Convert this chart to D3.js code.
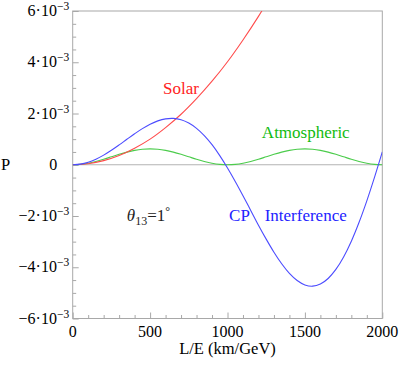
<!DOCTYPE html>
<html>
<head>
<meta charset="utf-8">
<script src="https://cdn.jsdelivr.net/npm/d3@7"></script>
<style>
  body { margin: 0; background: #fff; }
</style>
</head>
<body>
<svg></svg>
<script>
// values are in units of 1e-3
const lE = [0, 50, 100, 150, 200, 250, 300, 350, 400, 450, 500, 550, 600, 650, 700, 750, 800, 850, 900, 950,
  1000, 1050, 1100, 1150, 1200, 1250, 1300, 1350, 1400, 1450, 1500, 1550, 1600, 1650, 1700, 1750, 1800, 1850, 1900, 1950, 2000];

const atmospheric = [0, 0.015, 0.059, 0.128, 0.214, 0.31, 0.406, 0.492, 0.561, 0.605, 0.62, 0.605, 0.561, 0.492, 0.406, 0.31, 0.214, 0.128, 0.059, 0.015,
  0, 0.015, 0.059, 0.128, 0.214, 0.31, 0.406, 0.492, 0.561, 0.605, 0.62, 0.605, 0.561, 0.492, 0.406, 0.31, 0.214, 0.128, 0.059, 0.015, 0];

const interference = [0, 0.025, 0.099, 0.218, 0.376, 0.565, 0.774, 0.993, 1.209, 1.41, 1.581, 1.712, 1.79, 1.808, 1.756, 1.626, 1.42, 1.137, 0.784, 0.358,
  -0.125, -0.65, -1.206, -1.781, -2.358, -2.903, -3.413, -3.864, -4.239, -4.518, -4.689, -4.738, -4.656, -4.439, -4.085, -3.597, -2.982, -2.244, -1.407, -0.484, 0.5];

const solarL = [0, 100, 200, 300, 400, 500, 600, 700, 800, 900, 1000, 1100, 1200, 1300];
const solar = [0, 0.04, 0.16, 0.36, 0.645, 1.0, 1.45, 1.97, 2.58, 3.26, 4.02, 4.87, 5.79, 6.8];

const xTicks = [0, 500, 1000, 1500, 2000];
const yTicks = [-6, -4, -2, 0, 2, 4, 6];

const W = 399, H = 367;
const margin = { top: 11, right: 16.7, bottom: 48.5, left: 72.7 },
    width = W - margin.left - margin.right,
    height = H - margin.top - margin.bottom;

const serif = "'Liberation Serif', Tinos, 'Times New Roman', 'Noto Serif', 'DejaVu Serif', FreeSerif, 'Nimbus Roman', serif";

const x = d3.scaleLinear().domain([0, 2000]).range([0, width]);
const y = d3.scaleLinear().domain([-6, 6]).range([height, 0]);

const svg = d3.select("svg")
    .attr("width", W)
    .attr("height", H)
    .style("font-family", serif)
    .append("g")
    .attr("transform", "translate(" + margin.left + "," + margin.top + ")");

svg.append("clipPath").attr("id", "plot")
    .append("rect").attr("width", width).attr("height", height);

// zero axis
svg.append("line")
    .attr("x1", 0).attr("x2", width)
    .attr("y1", y(0)).attr("y2", y(0))
    .attr("stroke", "#b3b3b3");

// minor + major ticks, drawn inward
const frameColor = "#a8a8a8";
svg.append("g")
    .attr("transform", "translate(0," + height + ")")
    .call(d3.axisTop(x).tickValues(x.ticks(20).filter(d => !xTicks.includes(d))).tickSize(3.5).tickFormat(""))
    .call(g => g.select(".domain").remove());
svg.append("g")
    .attr("transform", "translate(0," + height + ")")
    .call(d3.axisTop(x).tickValues(xTicks).tickSize(6).tickFormat(""))
    .call(g => g.select(".domain").remove());
svg.append("g")
    .call(d3.axisRight(y).tickValues(y.ticks(24).filter(d => !yTicks.includes(d))).tickSize(3.5).tickFormat(""))
    .call(g => g.select(".domain").remove());
svg.append("g")
    .call(d3.axisRight(y).tickValues(yTicks).tickSize(6).tickFormat(""))
    .call(g => g.select(".domain").remove());
svg.selectAll(".tick line").attr("stroke", frameColor);

// frame
svg.append("rect")
    .attr("width", width).attr("height", height)
    .attr("fill", "none").attr("stroke", frameColor);

// tick labels
svg.selectAll(".xlab").data(xTicks).join("text")
    .attr("class", "xlab")
    .attr("x", d => x(d))
    .attr("y", height + 18.5)
    .attr("text-anchor", "middle")
    .attr("font-size", 16)
    .text(d => d);

const ylab = svg.selectAll(".ylab").data(yTicks).join("text")
    .attr("class", "ylab")
    .attr("x", d => d === 0 ? -15.5 : -3.5)
    .attr("y", d => y(d) + 5)
    .attr("text-anchor", "end")
    .attr("font-size", 16);
ylab.filter(d => d === 0).text("0");
ylab.filter(d => d !== 0).each(function (d) {
    const t = d3.select(this);
    t.append("tspan").text((d < 0 ? "\u2212" : "") + Math.abs(d) + "\u00b710");
    t.append("tspan").attr("dy", -6).attr("font-size", 11.5).text("\u22123");
});

// axis labels
svg.append("text")
    .attr("x", width / 2)
    .attr("y", height + 35.5)
    .attr("text-anchor", "middle")
    .attr("font-size", 16.5)
    .text("L/E (km/GeV)");
svg.append("text")
    .attr("x", -margin.left + 1)
    .attr("y", y(0) + 5)
    .attr("font-size", 16.5)
    .text("P");

// curves
const line = d3.line().curve(d3.curveCatmullRom);
const plot = svg.append("g").attr("clip-path", "url(#plot)");

plot.append("path")
    .attr("d", line(lE.map((d, i) => [x(d), y(atmospheric[i])])))
    .attr("fill", "none").attr("stroke", "#4ccc4c").attr("stroke-width", 1.1);
plot.append("path")
    .attr("d", line(solarL.map((d, i) => [x(d), y(solar[i])])))
    .attr("fill", "none").attr("stroke", "#ff4c4c").attr("stroke-width", 1.1);
plot.append("path")
    .attr("d", line(lE.map((d, i) => [x(d), y(interference[i])])))
    .attr("fill", "none").attr("stroke", "#4c4cff").attr("stroke-width", 1.1);

// annotations
svg.append("text")
    .attr("x", x(584)).attr("y", y(2.77))
    .attr("font-size", 17).attr("fill", "#f22")
    .text("Solar");
svg.append("text")
    .attr("x", x(1222)).attr("y", y(1.03))
    .attr("font-size", 17).attr("fill", "#1b1")
    .text("Atmospheric");
svg.append("text")
    .attr("x", x(1010)).attr("y", y(-2.2))
    .attr("font-size", 17).attr("fill", "#22f")
    .text("CP");
svg.append("text")
    .attr("x", x(1240)).attr("y", y(-2.2))
    .attr("font-size", 17).attr("fill", "#22f")
    .text("Interference");

const theta = svg.append("text")
    .attr("x", x(350)).attr("y", y(-2.2))
    .attr("font-size", 17).attr("fill", "#222");
theta.append("tspan").attr("font-style", "italic").text("\u03b8");
theta.append("tspan").attr("dy", 4).attr("font-size", 12).text("13");
theta.append("tspan").attr("dy", -4).text("=1");
theta.append("tspan").attr("dy", -6).attr("font-size", 12).text("\u00b0");
</script>
</body>
</html>
